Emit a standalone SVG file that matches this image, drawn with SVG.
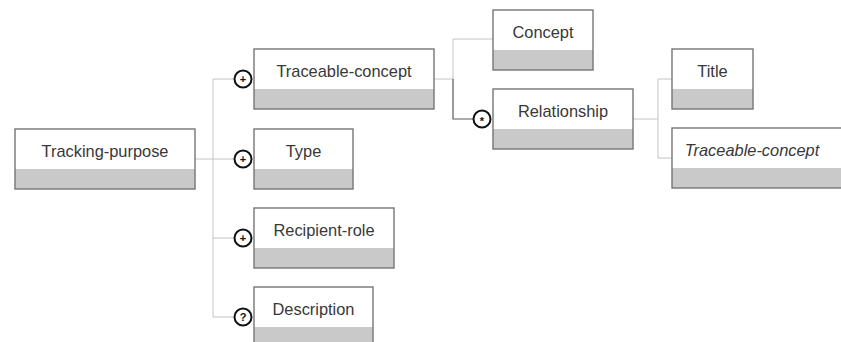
<svg xmlns="http://www.w3.org/2000/svg" width="841" height="342" viewBox="0 0 841 342">
<style>
.box{fill:#ffffff;stroke:none}
.band{fill:#c9c9c9;stroke:none}
.frame{fill:none;stroke:#757575;stroke-width:1.4}
.lbl{font-family:"Liberation Sans",Arial,sans-serif;font-size:16.4px;fill:#383838;text-anchor:middle}
.it{font-style:italic}
.con{fill:none;stroke:#c4c4c4;stroke-width:1}
.dark{fill:none;stroke:#5a5a5a;stroke-width:1.2}
.ring{fill:#ffffff;stroke:#111111;stroke-width:2}
.sym{font-family:"Liberation Sans",Arial,sans-serif;font-size:11px;font-weight:bold;fill:#111111;text-anchor:middle}
</style>
<rect width="841" height="342" fill="#ffffff"/>
<g id="connectors">
<path class="con" d="M195 159H213M213 79V317M213 79H235M213 159H235M213 238H235M213 317H235"/>
<path class="con" d="M434 79H453V39H493"/>
<path class="dark" d="M453 79V119H474"/>
<path class="con" d="M633 119H658M658 79V158M658 79H672M658 158H672"/>
</g>
<g id="tracking-purpose">
<rect class="box" x="15" y="129" width="180" height="60"/>
<rect class="band" x="15" y="169" width="180" height="20"/>
<rect class="frame" x="15" y="129" width="180" height="60"/>
<text class="lbl" x="105" y="157">Tracking-purpose</text>
</g>
<g id="traceable-concept">
<rect class="box" x="254" y="49" width="180" height="60"/>
<rect class="band" x="254" y="89" width="180" height="20"/>
<rect class="frame" x="254" y="49" width="180" height="60"/>
<text class="lbl" x="344" y="77">Traceable-concept</text>
<circle class="ring" cx="243" cy="79" r="8.5"/>
<text class="sym" x="243" y="83">+</text>
</g>
<g id="type">
<rect class="box" x="254" y="129" width="99" height="60"/>
<rect class="band" x="254" y="169" width="99" height="20"/>
<rect class="frame" x="254" y="129" width="99" height="60"/>
<text class="lbl" x="303.5" y="157">Type</text>
<circle class="ring" cx="243" cy="159" r="8.5"/>
<text class="sym" x="243" y="163">+</text>
</g>
<g id="recipient-role">
<rect class="box" x="254" y="208" width="140" height="60"/>
<rect class="band" x="254" y="248" width="140" height="20"/>
<rect class="frame" x="254" y="208" width="140" height="60"/>
<text class="lbl" x="324" y="236">Recipient-role</text>
<circle class="ring" cx="243" cy="238" r="8.5"/>
<text class="sym" x="243" y="242">+</text>
</g>
<g id="description">
<rect class="box" x="254" y="287" width="119" height="60"/>
<rect class="band" x="254" y="327" width="119" height="20"/>
<rect class="frame" x="254" y="287" width="119" height="60"/>
<text class="lbl" x="313.5" y="315">Description</text>
<circle class="ring" cx="243" cy="317" r="8.5"/>
<text class="sym" x="243" y="321">?</text>
</g>
<g id="concept">
<rect class="box" x="493" y="10" width="100" height="60"/>
<rect class="band" x="493" y="50" width="100" height="20"/>
<rect class="frame" x="493" y="10" width="100" height="60"/>
<text class="lbl" x="543" y="38">Concept</text>
</g>
<g id="relationship">
<rect class="box" x="493" y="89" width="140" height="60"/>
<rect class="band" x="493" y="129" width="140" height="20"/>
<rect class="frame" x="493" y="89" width="140" height="60"/>
<text class="lbl" x="563" y="117">Relationship</text>
<circle class="ring" cx="482" cy="119" r="8.5"/>
<text class="sym" x="482" y="125">*</text>
</g>
<g id="title">
<rect class="box" x="672" y="49" width="81" height="60"/>
<rect class="band" x="672" y="89" width="81" height="20"/>
<rect class="frame" x="672" y="49" width="81" height="60"/>
<text class="lbl" x="712.5" y="77">Title</text>
</g>
<g id="traceable-concept-ref">
<rect class="box" x="672" y="128" width="180" height="60"/>
<rect class="band" x="672" y="168" width="180" height="20"/>
<rect class="frame" x="672" y="128" width="180" height="60"/>
<text class="lbl it" x="752" y="156">Traceable-concept</text>
</g>
</svg>
